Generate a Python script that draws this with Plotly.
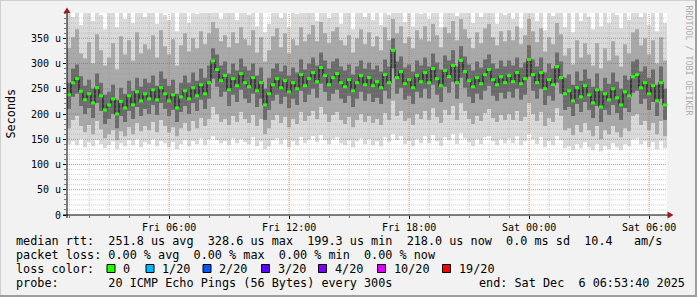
import numpy as np
import pandas as pd
import plotly.graph_objects as go

# ---------------- data (12-minute bins, 30 h window) ----------------
median = [238,262,270,245,228, 240,222,252,236,208,
          218,230,200,225,212, 236,218,244,226,240,
          230,248,228,252,240, 226,238,212,234,246,
          230,252,236,258,240, 262,305,288,266,276,
          248,270,256,280,262, 254,272,246,262,218,
          240,258,270,252,266, 244,262,250,278,256,
          270,282,264,292,276, 258,272,280,262,254,
          268,246,262,276,258, 272,256,264,252,278,
          262,326,272,284,260, 268,252,276,264,282,
          262,290,270,256,286, 274,296,262,306,284,
          266,254,272,260,278, 288,268,258,274,262,
          276,264,282,260,270, 308,278,262,282,250,
          268,258,294,272,240, 246,226,252,234,256,
          238,222,248,214,240, 228,250,232,218,244,
          236,274,278,252,262, 240,256,226,262,218]

q_hi = [262,290,298,275,256, 268,250,280,262,238,
        244,258,228,252,240, 266,246,272,254,270,
        262,276,256,284,270, 256,268,240,262,276,
        262,282,266,290,272, 296,330,318,296,304,
        280,300,286,310,294, 286,300,276,292,250,
        272,290,300,284,296, 276,292,282,308,288,
        300,312,296,322,306, 290,304,310,294,286,
        298,278,294,306,290, 302,288,296,284,308,
        294,350,304,314,292, 298,284,306,296,312,
        294,320,302,288,316, 306,326,294,334,314,
        298,286,304,292,308, 318,300,290,306,294,
        306,296,312,292,302, 336,308,294,312,282,
        300,290,322,304,272, 278,258,284,266,288,
        270,254,280,246,272, 260,282,264,250,276,
        268,304,308,284,294, 272,288,258,294,250]

q_lo = [210,234,240,216,200, 212,192,222,206,180,
        190,200,172,196,184, 206,190,214,196,210,
        200,218,198,222,210, 196,208,184,204,216,
        200,222,206,228,210, 230,270,254,234,244,
        216,238,224,248,230, 222,240,214,230,188,
        208,226,238,220,234, 212,230,218,246,224,
        238,250,232,260,244, 226,240,248,230,222,
        236,214,230,244,226, 240,224,232,220,246,
        230,290,240,252,228, 236,220,244,232,250,
        230,258,238,224,254, 242,264,230,272,252,
        234,222,240,228,246, 256,236,226,242,230,
        244,232,250,228,238, 274,246,230,250,218,
        236,226,262,240,208, 214,196,220,204,224,
        208,192,216,184,208, 198,218,202,188,212,
        204,242,246,220,230, 208,224,196,230,188]

p_hi = [330,352,368,320,310, 342,300,358,326,296,
        312,340,288,354,318, 346,306,362,320,338,
        328,356,312,366,334, 318,348,296,336,360,
        324,350,330,364,338, 360,382,370,344,356,
        332,362,340,372,348, 336,366,322,352,304,
        326,354,370,332,360, 320,348,336,372,344,
        358,376,344,382,360, 340,364,372,346,336,
        356,322,350,368,338, 362,334,354,326,372,
        346,388,360,374,340, 352,330,366,348,374,
        344,378,356,332,372, 360,384,346,388,368,
        350,330,362,340,370, 378,352,336,364,344,
        366,346,374,338,356, 388,364,342,370,324,
        352,338,380,358,316, 330,298,346,312,340,
        318,296,340,290,330, 306,344,316,294,338,
        320,362,368,336,350, 318,346,300,352,306]

p_lo = [172,188,196,176,164, 178,160,186,170,152,
        160,168,148,166,156, 174,160,182,166,176,
        168,184,164,188,176, 164,174,156,172,182,
        166,186,172,192,176, 190,214,200,184,190,
        178,196,184,204,190, 182,198,176,190,160,
        172,188,198,182,194, 174,190,180,204,186,
        196,206,190,214,200, 184,198,204,188,180,
        194,174,188,200,184, 196,182,190,178,202,
        188,226,196,206,186, 192,178,200,190,206,
        188,212,194,182,208, 198,216,188,222,206,
        190,180,196,186,202, 210,192,184,198,188,
        200,188,206,186,194, 222,200,186,204,176,
        192,184,212,196,168, 172,158,178,164,182,
        168,156,176,150,168, 160,176,164,154,172,
        166,196,200,178,186, 168,182,160,186,156]

p_min = [140,146,138,150,134, 144,136,148,140,132,
         138,146,130,142,136, 148,138,150,134,144,
         140,150,136,146,142, 134,144,130,140,148,
         136,146,140,152,138, 150,156,148,142,146,
         138,152,142,150,144, 140,154,136,146,130,
         136,148,152,140,150, 134,146,138,154,142,
         150,156,144,158,148, 140,150,154,142,138,
         148,134,146,152,140, 150,138,146,136,154,
         144,160,148,156,140, 146,136,150,142,156,
         142,158,146,136,154, 148,160,140,162,152,
         144,136,150,140,154, 156,146,138,150,142,
         152,142,156,138,146, 160,150,140,154,134,
         146,138,156,148,132, 136,128,140,132,144,
         134,128,140,126,136, 130,142,134,128,140,
         136,150,152,140,146, 134,144,130,146,132]

p_max = [410,392,410,376,410, 410,384,410,396,368,
         410,410,372,410,388, 410,380,410,410,392,
         410,410,378,410,396, 386,410,364,410,410,
         380,410,398,410,410, 410,410,410,388,410,
         410,410,386,410,410, 396,410,374,410,362,
         378,410,410,390,410, 372,410,398,410,410,
         410,410,384,410,410, 390,410,410,378,410,
         410,368,410,410,392, 410,386,410,376,410,
         396,410,410,410,382, 410,374,410,398,410,
         388,410,410,372,410, 410,410,394,410,410,
         410,380,410,392,410, 410,410,378,410,396,
         410,388,410,370,410, 410,410,384,410,366,
         410,394,410,410,372, 410,362,410,384,410,
         392,368,410,374,410, 380,410,396,370,410,
         386,410,410,392,410, 376,410,364,410,380]

y_tick_vals = [0, 50, 100, 150, 200, 250, 300, 350]
y_tick_text = ["0", "50 u", "100 u", "150 u", "200 u", "250 u", "300 u", "350 u"]

loss_labels = ["0", "1/20", "2/20", "3/20", "4/20", "10/20", "19/20"]
loss_colors = ["#26ff00", "#00b8ff", "#0059ff", "#5e00ff", "#7e00ff", "#dd00ff", "#ff0000"]

legend_rtt = "median rtt:  251.8 us avg  328.6 us max  199.3 us min  218.0 us now  0.0 ms sd  10.4   am/s"
legend_loss = "packet loss: 0.00 % avg  0.00 % max  0.00 % min  0.00 % now"
legend_probe = "probe:       20 ICMP Echo Pings (56 Bytes) every 300s"
legend_end = "end: Sat Dec  6 06:53:40 2025"

start = pd.Timestamp("2025-12-05 00:53:40")
end = pd.Timestamp("2025-12-06 06:53:40")
step = pd.Timedelta(minutes=12)
times = pd.date_range(start + step / 2, periods=len(median), freq="12min")
edges = list(pd.date_range(start, periods=len(median), freq="12min")) + [end]


def stepped(vals):
    return list(vals) + [vals[-1]]


# ---------------- layout helpers ----------------
W, H = 697, 297
L, R, T, B = 67, 30, 13, 82
PW, PH = W - L - R, H - T - B
X0, Y0 = L, H - B


def px(x):
    return (x - X0) / PW


def py(y):
    return (Y0 - y) / PH


FONT = "DejaVu Sans Mono"

fig = go.Figure()

bands = [(p_min, p_max, "#dadada"), (p_lo, p_hi, "#a9a9a9"), (q_lo, q_hi, "#6a6a6a")]
for lo, hi, col in bands:
    fig.add_trace(go.Scatter(x=edges, y=stepped(lo), mode="lines", line=dict(width=0, shape="hv"),
                             hoverinfo="skip"))
    fig.add_trace(go.Scatter(x=edges, y=stepped(hi), mode="lines", line=dict(width=0, shape="hv"),
                             fill="tonexty", fillcolor=col, hoverinfo="skip"))

fig.add_trace(go.Scatter(x=edges, y=stepped(median), mode="lines",
                         line=dict(color="#1c1c1c", width=1.2, shape="hv"), hoverinfo="skip"))
fig.add_trace(go.Scatter(x=times, y=median, mode="markers",
                         marker=dict(symbol="line-ew", size=3, color=loss_colors[0],
                                     line=dict(color=loss_colors[0], width=3)),
                         hoverinfo="skip"))

shapes = []
for t in pd.date_range("2025-12-05 01:00", "2025-12-06 06:00", freq="1h"):
    major = t.hour % 6 == 0
    shapes.append(dict(type="line", xref="x", yref="paper", x0=t, x1=t, y0=0, y1=1, layer="above",
                       line=dict(color="rgba(230,80,80,0.7)" if major else "rgba(150,150,150,0.45)",
                                 width=1, dash="1px,1px")))
for v in range(10, 400, 10):
    major = v % 50 == 0
    shapes.append(dict(type="line", xref="paper", yref="y", x0=0, x1=1, y0=v, y1=v, layer="above",
                       line=dict(color="rgba(230,80,80,0.7)" if major else "rgba(150,150,150,0.45)",
                                 width=1, dash="1px,1px")))
shapes.append(dict(type="line", xref="paper", yref="paper", x0=px(63), x1=px(668), y0=py(215), y1=py(215),
                   layer="above", line=dict(color="black", width=1)))
shapes.append(dict(type="line", xref="paper", yref="paper", x0=px(67), x1=px(67), y0=py(218), y1=py(10),
                   layer="above", line=dict(color="black", width=1)))
shapes.append(dict(type="path", xref="paper", yref="paper", layer="above",
                   path=f"M {px(63.5)},{py(13)} L {px(70.5)},{py(13)} L {px(67)},{py(7.5)} Z",
                   fillcolor="#9e1a1a", line=dict(width=0)))
shapes.append(dict(type="path", xref="paper", yref="paper", layer="above",
                   path=f"M {px(667.5)},{py(211.5)} L {px(667.5)},{py(218.5)} L {px(673.5)},{py(215)} Z",
                   fillcolor="#9e1a1a", line=dict(width=0)))
shapes.append(dict(type="line", xref="paper", yref="paper", x0=px(0.5), x1=px(0.5), y0=py(0), y1=py(297),
                   line=dict(color="#cfcfcf", width=1)))
shapes.append(dict(type="line", xref="paper", yref="paper", x0=px(0), x1=px(697), y0=py(0.5), y1=py(0.5),
                   line=dict(color="#cfcfcf", width=1)))
shapes.append(dict(type="line", xref="paper", yref="paper", x0=px(696), x1=px(696), y0=py(0), y1=py(297),
                   line=dict(color="#9e9e9e", width=2)))
shapes.append(dict(type="line", xref="paper", yref="paper", x0=px(0), x1=px(697), y0=py(296), y1=py(296),
                   line=dict(color="#9e9e9e", width=2)))

annotations = []


def txt(s, x, y, size=11.8, xanchor="left", color="black", angle=0):
    annotations.append(dict(text=s, x=px(x), y=py(y), xref="paper", yref="paper", showarrow=False,
                            xanchor=xanchor, yanchor="middle", borderpad=0, textangle=angle,
                            font=dict(family=FONT, size=size, color=color)))


txt(legend_rtt.replace(" ", "&nbsp;"), 15, 241)
txt(legend_loss.replace(" ", "&nbsp;"), 15, 255)
txt("loss&nbsp;color:", 15, 268.5)
txt(legend_probe.replace(" ", "&nbsp;"), 15, 282.5)
txt(legend_end.replace(" ", "&nbsp;"), 477.5, 282.5)
txt("Seconds", 10.5, 114, xanchor="center", angle=-90)
txt("RRDTOOL / TOBI OETIKER".replace(" ", "&nbsp;"), 688.5, 60, size=8.3, xanchor="center", color="#adadad",
    angle=90)

box_x = [107, 146, 203, 261.5, 318.5, 377.5, 442.5]
for bx, lab, col in zip(box_x, loss_labels, loss_colors):
    shapes.append(dict(type="rect", xref="paper", yref="paper", x0=px(bx), x1=px(bx + 8),
                       y0=py(264.5), y1=py(272.5), fillcolor=col, line=dict(color="black", width=1)))
    txt(lab, bx + 15, 268.5)

fig.update_layout(
    width=W, height=H, autosize=False,
    margin=dict(l=L, r=R, t=T, b=B, pad=0),
    paper_bgcolor="#f2f2f2", plot_bgcolor="white",
    showlegend=False,
    shapes=shapes, annotations=annotations,
    xaxis=dict(type="date", range=[start, end], tick0="2025-12-05 00:00", dtick=6 * 3600 * 1000,
               tickformat="%a %H:%M", ticks="outside", ticklen=3, tickcolor="black", showgrid=False,
               zeroline=False, showline=False, tickfont=dict(family=FONT, size=10, color="black"),
               minor=dict(dtick=3600 * 1000, tick0="2025-12-05 00:00", ticks="outside", ticklen=2,
                          tickcolor="#777", showgrid=False)),
    yaxis=dict(range=[0, 400], tickvals=y_tick_vals, ticktext=y_tick_text, ticks="outside", ticklen=3,
               tickcolor="black", showgrid=False, zeroline=False, showline=False,
               tickfont=dict(family=FONT, size=10, color="black"),
               minor=dict(dtick=10, tick0=0, ticks="outside", ticklen=2, tickcolor="#777", showgrid=False)),
)

fig.write_html("out.html")
